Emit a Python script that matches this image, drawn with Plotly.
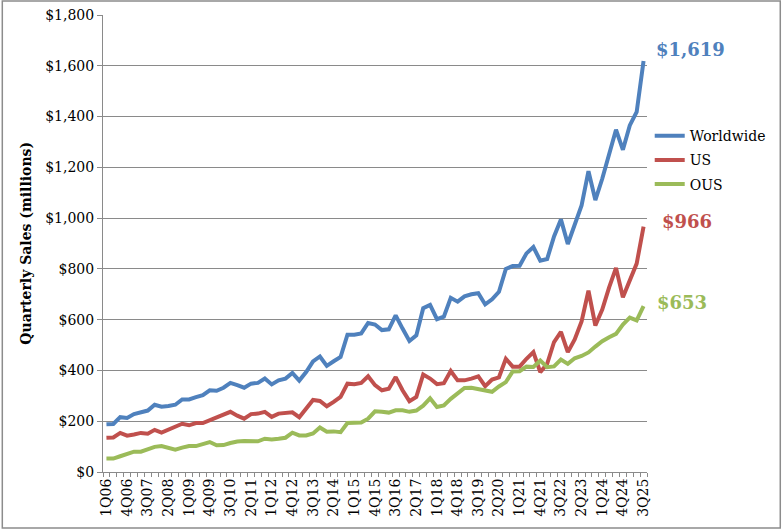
import plotly.graph_objects as go

quarters = [f"{q}Q{y:02d}" for y in range(6, 26) for q in range(1, 5)][:79]
tick_labels = quarters[::3]

worldwide = [188, 189, 216, 213, 228, 234, 242, 265, 257, 260,
             265, 286, 286, 295, 303, 322, 320, 332, 351, 342,
             332, 348, 351, 368, 345, 361, 368, 390, 360, 394,
             436, 455, 418, 436, 453, 541, 541, 546, 587, 581,
             559, 562, 617, 565, 516, 538, 645, 658, 602, 612,
             686, 671, 692, 700, 704, 660, 680, 710, 800, 811,
             812, 861, 886, 832, 839, 928, 995, 898, 970, 1050,
             1185, 1071, 1155, 1258, 1348, 1269, 1365, 1418, 1619]
us = [135, 136, 154, 143, 148, 154, 151, 166, 155, 167,
      177, 190, 184, 193, 193, 204, 215, 226, 237, 222,
      210, 228, 230, 237, 217, 230, 233, 235, 216, 250,
      284, 280, 259, 276, 296, 348, 346, 351, 377, 342,
      322, 328, 374, 322, 279, 296, 384, 368, 346, 350,
      398, 361, 361, 368, 377, 338, 364, 373, 446, 415,
      415, 446, 472, 393, 426, 512, 552, 472, 522, 593,
      714, 577, 640, 727, 804, 688, 757, 821, 966]
ous = [53, 53, 62, 70, 80, 80, 91, 99, 102, 93,
       88, 96, 102, 102, 110, 118, 105, 106, 114, 120,
       122, 120, 121, 131, 128, 131, 135, 155, 144, 144,
       152, 175, 159, 160, 157, 193, 195, 195, 210, 239,
       237, 234, 243, 243, 237, 242, 261, 290, 256, 262,
       288, 310, 331, 332, 327, 322, 316, 337, 354, 396,
       397, 415, 414, 439, 413, 416, 443, 426, 448, 457,
       471, 494, 515, 531, 544, 581, 608, 597, 653]

BLUE = "#4F81BD"
RED = "#C0504D"
GREEN = "#9BBB59"
GRID = "#8a8a8a"
FONT = "DejaVu Serif"

fig = go.Figure()
for name, vals, col in [("Worldwide", worldwide, BLUE), ("US", us, RED), ("OUS", ous, GREEN)]:
    fig.add_trace(go.Scatter(x=quarters, y=vals, mode="lines", name=name,
                             legendgroup=name,
                             line=dict(color=col, width=4)))

for vals, col, xs, ys in [(worldwide, BLUE, 10, 11), (us, RED, 16, 5), (ous, GREEN, 11, 4)]:
    fig.add_annotation(x=quarters[-1], y=vals[-1], text=f"${vals[-1]:,}",
                       xref="x", yref="y", showarrow=False,
                       xanchor="left", yanchor="middle", xshift=xs, yshift=ys,
                       font=dict(family=FONT, size=18, color=col, weight="bold"))

fig.add_annotation(text="<b>Quarterly Sales (millions)</b>", textangle=-90,
                   xref="paper", yref="paper", x=-0.143, y=0.5,
                   showarrow=False, xanchor="center", yanchor="middle",
                   font=dict(family=FONT, size=14, color="black"))

fig.add_shape(type="rect", xref="paper", yref="paper",
              x0=-0.1851, x1=1.245, y0=-0.1225, y1=1.0306,
              line=dict(color="#8c8c8c", width=1.5), fillcolor="rgba(0,0,0,0)", layer="below")

tick_text = [q if q in tick_labels else "" for q in quarters]

fig.update_layout(
    width=782, height=532,
    margin=dict(l=103, r=135, t=15, b=60, autoexpand=False),
    paper_bgcolor="white", plot_bgcolor="white",
    font=dict(family=FONT, size=14, color="black"),
    showlegend=True,
    legend=dict(x=1.005, y=0.77, xanchor="left", yanchor="top",
                font=dict(family=FONT, size=14, color="black"),
                itemwidth=30, tracegroupgap=3, traceorder="grouped",
                bgcolor="rgba(0,0,0,0)"),
    xaxis=dict(type="category", categoryorder="array", categoryarray=quarters,
               tickmode="array", tickvals=quarters, ticktext=tick_text,
               tickson="boundaries", automargin=False,
               tickangle=-90, showgrid=False, showline=True, linecolor=GRID, linewidth=1,
               ticks="outside", ticklen=4, tickcolor=GRID,
               tickfont=dict(family=FONT, size=14, color="black"),
               range=[-0.5, 78.5]),
    yaxis=dict(range=[0, 1800], dtick=200, tick0=0, tickprefix="$", tickformat=",",
               automargin=False,
               showgrid=True, gridcolor=GRID, gridwidth=1, zeroline=False,
               showline=True, linecolor=GRID, linewidth=1,
               ticks="outside", ticklen=5, tickcolor=GRID,
               tickfont=dict(family=FONT, size=14, color="black")),
)

fig.write_html("out.html", config={"displayModeBar": False},
               post_script="document.body.style.margin='0px';document.body.style.overflow='hidden';")
